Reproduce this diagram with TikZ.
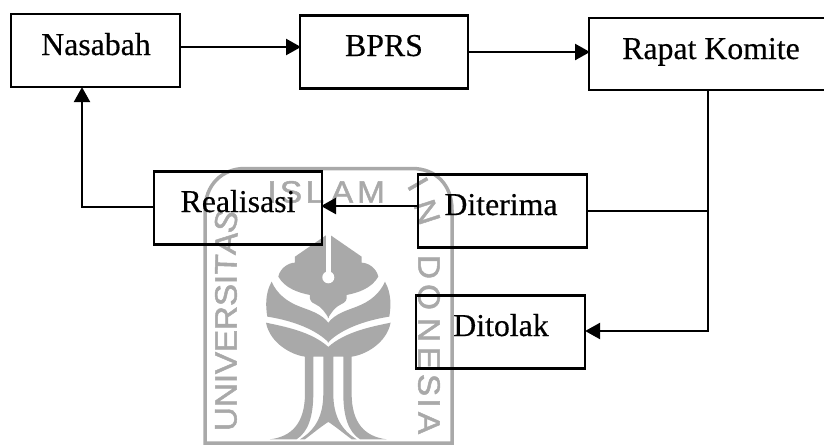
\documentclass[tikz,border=0pt]{standalone}
\usepackage{fontspec}
\setmainfont[FakeBold=0.4]{Liberation Serif}
\newfontfamily\wmfont[FakeBold=1.5,FakeStretch=1.08]{Liberation Sans}
\usetikzlibrary{arrows.meta}
\definecolor{wm}{HTML}{A9A9A9}
\newcommand{\halfleaf}{%
    \fill[wm] (-1.5,220) -- (100,290) -- (100,308) .. controls (120,308) and (145,325) .. (150,350)
      .. controls (130,385) and (90,398) .. (55,405) .. controls (58,420) and (50,428) .. (40,432)
      .. controls (20,440) and (8,460) .. (-1.5,475) -- cycle;
    \fill[wm] (170,365) .. controls (190,400) and (188,440) .. (183,470)
      .. controls (130,478) and (45,500) .. (-1.5,548) -- (-1.5,490)
      .. controls (20,460) and (60,450) .. (85,440) .. controls (125,425) and (155,400) .. (170,365) -- cycle;
    \fill[wm] (187,488) .. controls (175,550) and (110,585) .. (70,590) -- (70,700)
      .. controls (70,790) and (110,830) .. (175,838) -- (95,838)
      .. controls (60,815) and (45,770) .. (45,700) -- (45,590) -- (15,590) -- (15,700)
      .. controls (15,770) and (40,810) .. (85,838) -- (70,838)
      .. controls (40,815) and (15,795) .. (-1.5,785) -- (-1.5,562)
      .. controls (50,515) and (130,500) .. (187,488) -- cycle;
}
\tikzset{
  boxn/.style={draw=black,line width=2.2pt,minimum width=#1,minimum height=73pt,inner sep=0pt,fill=none},
  lbl/.style={anchor=base,inner sep=0pt,font=\fontsize{31.8}{34}\selectfont,text=black},
  conn/.style={draw=black,line width=2.4pt},
  arr/.style={conn,-{Triangle[length=15pt,width=16pt]},shorten >=-1pt},
  wl/.style={inner sep=0pt,text=wm,font=\wmfont\fontsize{31}{31}\selectfont},
}
\begin{document}
\begin{tikzpicture}[x=1pt,y=-1pt]
\useasboundingbox (0,0) rectangle (824,445);
% watermark
\draw[wm,line width=3.5pt] (205,443) -- (205,210) .. controls (205,185) and (222,168.5) .. (245,168.5)
  -- (412,168.5) .. controls (436,168.5) and (452,185) .. (452,210) -- (452,443) -- cycle;
\begin{scope}[shift={(328.3,160)},x=.3333pt,y=-.3333pt]
  \halfleaf
  \begin{scope}[xscale=-1]\halfleaf\end{scope}
  \draw[white,line width=5pt] (0,215) -- (0,345);
  \fill[white] (0,352) circle (18);
\end{scope}
\node[wl] (wi) at (272,192) {I};
\node[wl] (ws) at (291,192) {S};
\node[wl] (wl) at (315,192) {L};
\node[wl] (wa) at (342,192) {A};
\node[wl] (wm) at (371,192) {M};
\foreach \t/\y/\r [count=\i] in {U/419/90,N/395/90,I/378.5/90,V/363/90,E/341/90,R/318/90,S/295/90,I/279.5/90,T/264.5/88,A/243/84,S/221/74}{
  \node[wl,rotate=\r] (wu\i) at (226,\y) {\t};
}
\foreach \t/\x/\y/\r [count=\i] in {I/418/184/-60,N/427/212/-72,D/429/267/-90,O/429/297/-90,N/429/330/-90,E/429/358/-90,S/429/385/-90,I/429/403/-90,A/429/423/-90}{
  \node[wl,rotate=\r] (wn\i) at (\x,\y) {\t};
}
% boxes
\node[boxn=169pt] (nasabah) at (95.5,50.5) {};
\node[boxn=168pt] (bprs) at (384,52) {};
\node[boxn=236pt,minimum height=72pt] (rapat) at (707,54) {};
\node[boxn=168pt] (realisasi) at (238,208) {};
\node[boxn=169pt] (diterima) at (502.5,211) {};
\node[boxn=169pt] (ditolak) at (500.5,332) {};
% labels
\node[lbl] (tn) at (96,55) {Nasabah};
\node[lbl] (tb) at (384,56) {BPRS};
\node[lbl] (tr) at (711,59) {Rapat Komite};
\node[lbl] (tl) at (238,212) {Realisasi};
\node[lbl] (td) at (501,215) {Diterima};
\node[lbl] (tt) at (501,336) {Ditolak};
% connectors
\coordinate (a1) at (300,47);
\coordinate (a2) at (589,52);
\coordinate (a4) at (322,206);
\coordinate (a5) at (82,207);
\coordinate (j1) at (708,211);
\coordinate (j2) at (708,331);
\draw[arr] (a1 -| nasabah.east) -- (a1);
\draw[arr] (a2 -| bprs.east) -- (a2);
\draw[arr] (a4 -| diterima.west) -- (a4);
\draw[arr] (a5 -| realisasi.west) -- (a5) -- (a5 |- nasabah.south);
\draw[conn] (diterima.east |- j1) -- (j1);
\draw[arr] (j2 |- rapat.south) -- (j2) -- (j2 -| ditolak.east);
\end{tikzpicture}
\end{document}
